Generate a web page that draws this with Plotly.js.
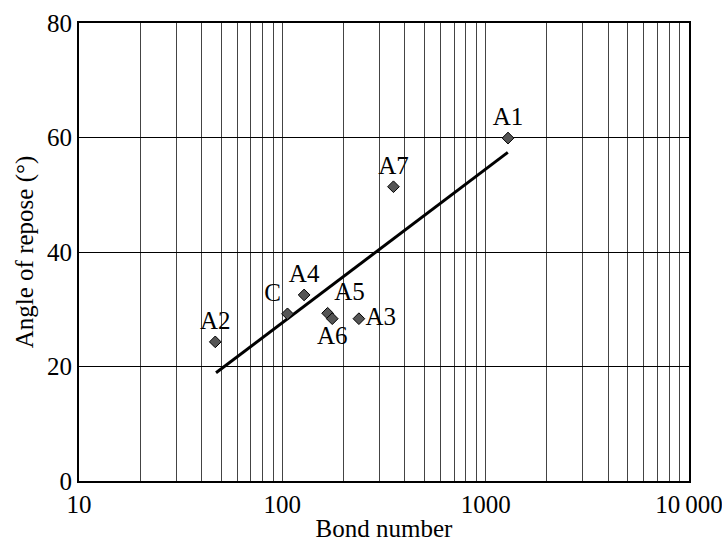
<!DOCTYPE html>
<html>
<head>
<meta charset="utf-8">
<script src="https://cdn.plot.ly/plotly-3.0.1.min.js"></script>
<style>html,body{margin:0;padding:0;background:#fff;}#chart{width:722px;height:542px;}</style>
</head>
<body>
<div id="chart"></div>
<script>
// Data
const sampleNames = ['A1', 'A7', 'A4', 'C', 'A5', 'A6', 'A3', 'A2'];
const bondNumber = [1288, 352, 128, 106, 167, 176, 238, 46.8];
const angleOfRepose = [59.9, 51.4, 32.5, 29.2, 29.3, 28.35, 28.35, 24.3];
const labelPositions = ['top center', 'top center', 'top center', 'top left', 'top right', 'bottom center', 'middle right', 'top center'];

const fitBond = [47.2, 1285];
const fitAngle = [18.9, 57.4];

const xTickVals = [10,20,30,40,50,60,70,80,90,100,200,300,400,500,600,700,800,900,1000,2000,3000,4000,5000,6000,7000,8000,9000,10000];
const xTickLabels = {10: '10', 100: '100', 1000: '1000', 10000: '10\u2009000'};
const yTickVals = [0, 20, 40, 60, 80];

const FONT = 'Liberation Serif';
const FS = 25;

const traces = [
  {
    x: fitBond, y: fitAngle, type: 'scatter', mode: 'lines',
    line: {color: '#000', width: 3}, hoverinfo: 'skip', showlegend: false
  },
  {
    x: bondNumber, y: angleOfRepose, type: 'scatter', mode: 'markers+text',
    text: sampleNames, textposition: labelPositions,
    textfont: {family: FONT, size: FS, color: '#000'},
    marker: {symbol: 'diamond', size: 9, color: '#555', line: {color: '#000', width: 1}},
    showlegend: false, cliponaxis: false
  }
];

const layout = {
  width: 722, height: 542,
  margin: {l: 79, r: 33, t: 23, b: 61, pad: 0},
  paper_bgcolor: '#fff', plot_bgcolor: '#fff',
  font: {family: FONT, size: FS, color: '#000'},
  showlegend: false,
  xaxis: {
    type: 'log', range: [1, 4],
    tickmode: 'array', tickvals: xTickVals,
    ticktext: xTickVals.map(v => xTickLabels[v] || ''),
    ticklabeloverflow: 'allow',
    ticks: '', showgrid: true, gridcolor: '#444', gridwidth: 1,
    showline: true, linecolor: '#000', linewidth: 2, mirror: true,
    zeroline: false,
    tickfont: {family: FONT, size: FS, color: '#000'},
    title: {text: 'Bond number', font: {family: FONT, size: FS, color: '#000'}, standoff: 2}
  },
  yaxis: {
    range: [0, 80], tickmode: 'array', tickvals: yTickVals,
    ticks: '', showgrid: true, gridcolor: '#000', gridwidth: 1,
    showline: true, linecolor: '#000', linewidth: 2, mirror: true,
    zeroline: false,
    tickfont: {family: FONT, size: FS, color: '#000'},
    title: {text: 'Angle of repose (°)', font: {family: FONT, size: FS, color: '#000'}, standoff: 6}
  }
};

Plotly.newPlot('chart', traces, layout, {displayModeBar: false, staticPlot: true});
</script>
</body>
</html>
